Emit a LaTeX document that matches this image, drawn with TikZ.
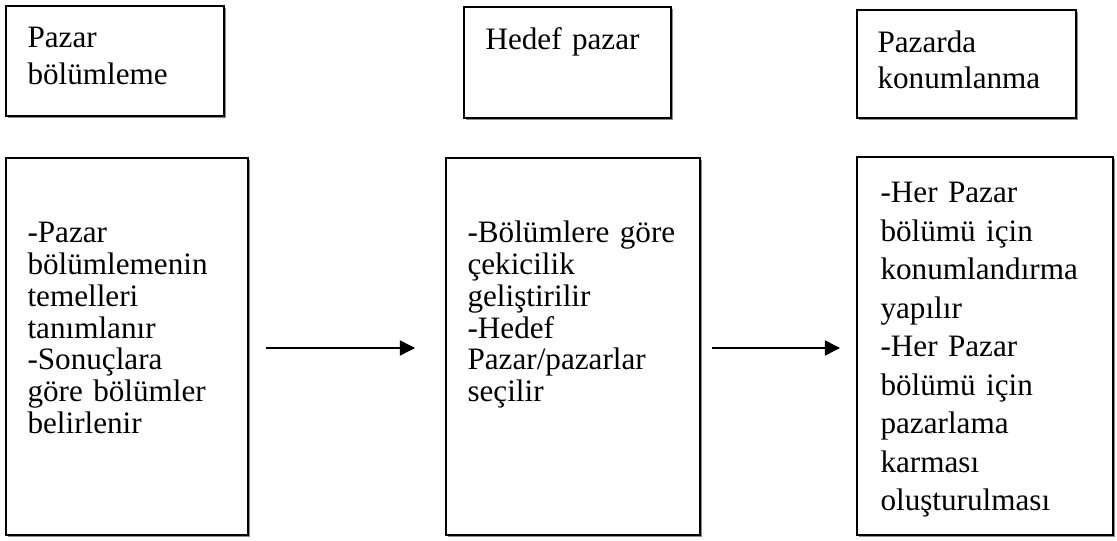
\documentclass[tikz,border=0pt]{standalone}
\usepackage{fontspec}
\setmainfont{Liberation Serif}
\usetikzlibrary{arrows.meta,shadows}
\tikzset{
  box/.style={draw=black, fill=white, line width=0.7pt, rectangle, inner sep=0pt,
    drop shadow={shadow xshift=0.65pt, shadow yshift=-0.65pt, fill=black!45, opacity=1}},
  txt/.style={anchor=base west, inner sep=0pt, text width=110pt, align=left},
  arr/.style={draw=black, line width=0.55pt, -{Triangle[length=5.8pt,width=5.8pt]}}
}
\begin{document}
\begin{tikzpicture}[x=0.385pt,y=-0.385pt]
\useasboundingbox[fill=white] (0,0) rectangle (1117,541);
% boxes
\node[box, minimum width=83.93pt, minimum height=42.35pt] (tl) at (115,61) {};
\node[box, minimum width=79.7pt, minimum height=42.74pt] (tm) at (567.5,62.5) {};
\node[box, minimum width=84.3pt, minimum height=41.58pt] (tr) at (966.5,64) {};
\node[box, minimum width=93.17pt, minimum height=145.15pt] (bl) at (127,346.5) {};
\node[box, minimum width=97.79pt, minimum height=145.15pt] (bm) at (573,346.5) {};
\node[box, minimum width=98.56pt, minimum height=145.53pt] (br) at (985,346) {};
% texts
\node[txt, font=\fontsize{12pt}{14pt}\selectfont] (tlt) at (27,48) {Pazar\\bölümleme};
\node[txt, font=\fontsize{12pt}{14pt}\selectfont] (tmt) at (485,50) {Hedef pazar};
\node[txt, font=\fontsize{12pt}{13.6pt}\selectfont] (trt) at (877,53) {Pazarda\\konumlanma};
\node[txt, font=\fontsize{12pt}{12.2pt}\selectfont] (blt) at (27,243)
  {-Pazar\\bölümlemenin\\temelleri\\tanımlanır\\-Sonuçlara\\göre bölümler\\belirlenir};
\node[txt, font=\fontsize{12pt}{12.2pt}\selectfont] (bmt) at (467,243)
  {-Bölümlere göre\\çekicilik\\geliştirilir\\-Hedef\\Pazar/pazarlar\\seçilir};
\node[txt, font=\fontsize{12pt}{14.8pt}\selectfont] (brt) at (880,203)
  {-Her Pazar\\bölümü için\\konumlandırma\\yapılır\\-Her Pazar\\bölümü için\\pazarlama\\karması\\oluşturulması};
% arrows
\coordinate (a1s) at (266,348);
\coordinate (a1e) at (415,348);
\coordinate (a2s) at (712,348);
\coordinate (a2e) at (840,348);
\draw[arr] (a1s) -- (a1e);
\draw[arr] (a2s) -- (a2e);
\end{tikzpicture}
\end{document}
